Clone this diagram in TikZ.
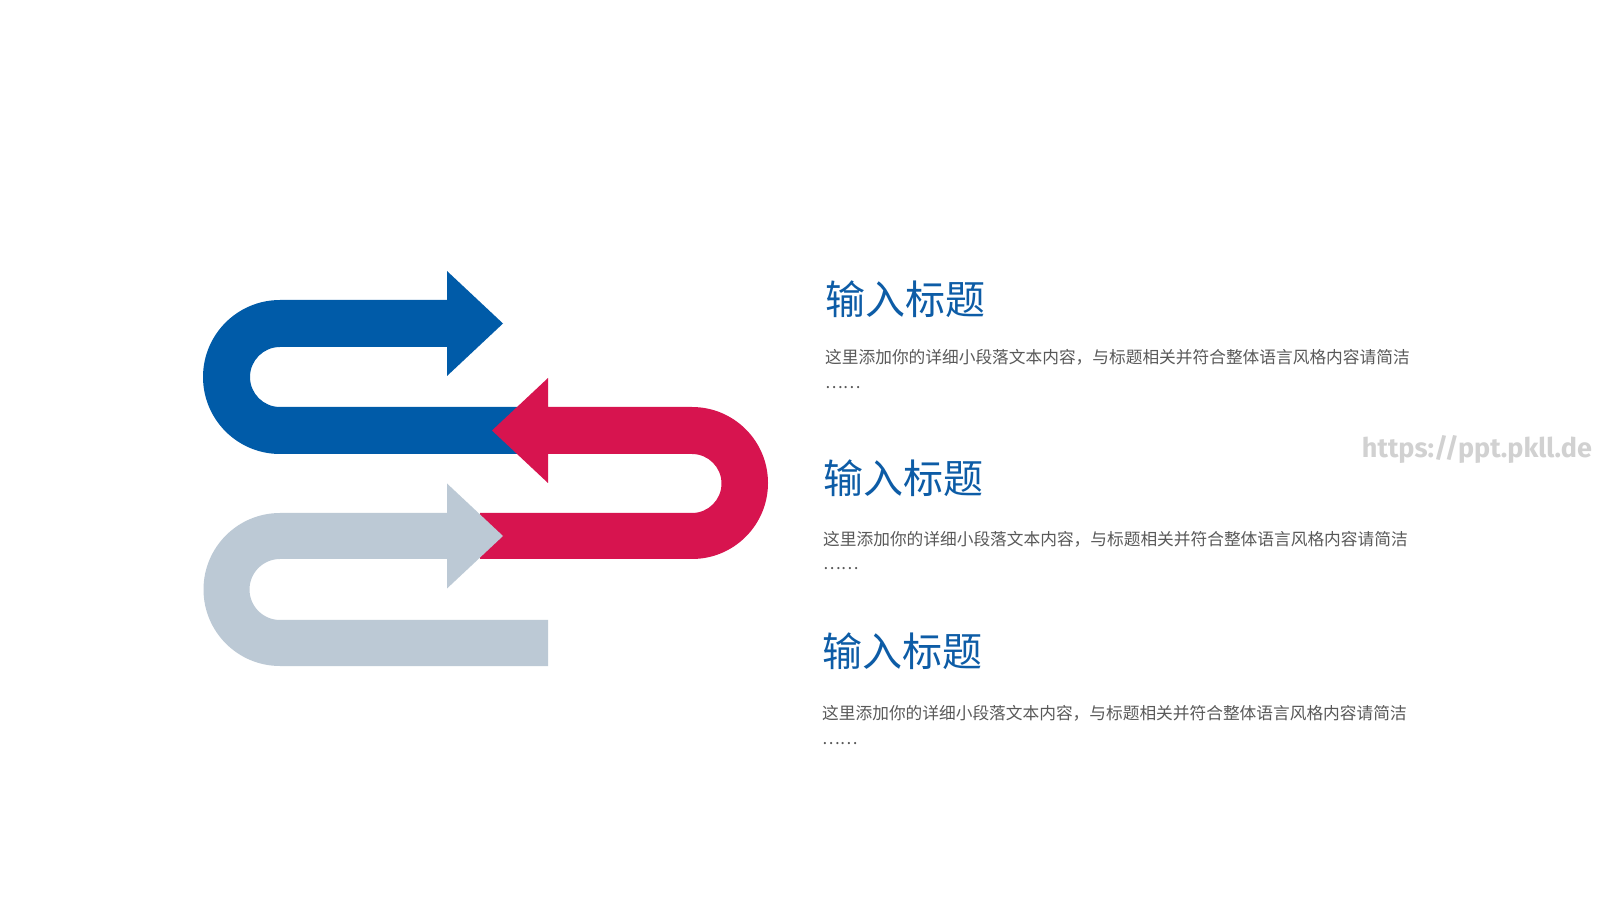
\documentclass[tikz,border=0pt]{standalone}
\usepackage{fontspec}
\newfontfamily\cjk{Noto Sans CJK SC}
\newfontfamily\wmfont{Fira Sans}
\definecolor{arrowblue}{HTML}{005BA8}
\definecolor{arrowred}{HTML}{D7144F}
\definecolor{arrowgrey}{HTML}{BCC9D5}
\definecolor{titleblue}{HTML}{0D5CA6}
\definecolor{bodygrey}{HTML}{595959}
\tikzset{
  titletext/.style={anchor=west, inner sep=0pt, font=\cjk\fontsize{40}{40}\selectfont, text=titleblue},
  bodytext/.style={anchor=west, inner sep=0pt, font=\cjk\fontsize{16.7}{16.7}\selectfont, text=bodygrey},
}
\begin{document}
\begin{tikzpicture}[x=1pt, y=1pt]

\def\R{77}
\def\r{30}
\def\body{这里添加你的详细小段落文本内容，与标题相关并符合整体语言风格内容请简洁}

\useasboundingbox (0,0) rectangle (1600,900);
\fill[white] (0,0) rectangle (1600,900);

% blue arrow
\fill[arrowblue] (520,446) -- (280,446) arc (270:90:\R) -- (447,600)
  -- (447,629) -- (503,576.5) -- (447,524) -- (447,553) -- (280,553)
  arc (90:270:\r) -- (520,493) -- cycle;

% red arrow
\fill[arrowred] (480,341) -- (692,341) arc (-90:90:76) -- (548,493)
  -- (548,522) -- (492,469.5) -- (548,417) -- (548,446) -- (692,446)
  arc (90:-90:29.5) -- (480,387) -- cycle;

% grey arrow
\fill[arrowgrey] (548,234) -- (280,234) arc (270:90:76.5) -- (447,387)
  -- (447,416.5) -- (503,364) -- (447,311.5) -- (447,341) -- (280,341)
  arc (90:270:30.5) -- (548,280) -- cycle;

\node[titletext] (title1) at (825,601) {输入标题};
\node[bodytext] (body1) at (825,543) {\body};
\node[bodytext] (dots1) at (825,512) {……};

\node[titletext] (title2) at (823,421.5) {输入标题};
\node[bodytext] (body2) at (823,361) {\body};
\node[bodytext] (dots2) at (823,331) {……};

\node[titletext] (title3) at (822,249) {输入标题};
\node[bodytext] (body3) at (822,187) {\body};
\node[bodytext] (dots3) at (822,156) {……};

\node[inner sep=0pt, font=\wmfont\bfseries\fontsize{27}{27}\selectfont, text=black!18]
  (mark) at (1477,451) {https://ppt.pkll.de};

\end{tikzpicture}
\end{document}
